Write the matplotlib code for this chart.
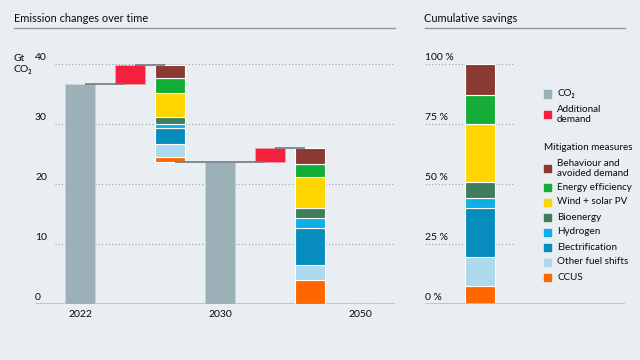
import matplotlib
matplotlib.use('Agg')
import matplotlib.pyplot as plt
from matplotlib.patches import Rectangle

plt.rcParams['font.family'] = ['Lato', 'DejaVu Sans']

# data
year_labels = ['2022', '2030', '2050']
co2 = [36.8, 23.8, 0.3]
additional_demand = [3.1, 2.2]
measures = ['Behaviour and\navoided demand', 'Energy efficiency', 'Wind + solar PV',
            'Bioenergy', 'Hydrogen', 'Electrification', 'Other fuel shifts', 'CCUS']
savings_2030 = [2.25, 2.35, 4.05, 1.15, 0.75, 2.65, 2.1, 0.8]
savings_2050 = [2.6, 2.2, 5.1, 1.7, 1.6, 6.25, 2.55, 4.0]
cumulative = [12.75, 12.2, 24.25, 6.7, 4.1, 20.25, 12.15, 7.6]
left_ticks = [0, 10, 20, 30, 40]
right_ticks = [0, 25, 50, 75, 100]

bg = '#e8eef2'
grey = '#9cb0b8'
red = '#f4203c'
measure_colors = ['#8a3a33', '#14ad38', '#ffd500', '#3f7e5d', '#10aee6',
                  '#078dbd', '#acd9ec', '#ff6600']
text_c = '#0a0a0a'
line_c = '#6e7b82'

fig = plt.figure(figsize=(6.4, 3.6), dpi=100, facecolor=bg)

def px(x, y):
    return x / 640.0, 1 - y / 360.0

# ---- left chart ----
ax = fig.add_axes([35/640, 1 - 304.3/360, 360/640, 252/360])
ax.set_facecolor(bg)
ax.set_xlim(-0.9, 6.3)
ax.set_ylim(0, 42)
ax.axis('off')

# x positions of the 7 waterfall columns (50 px units)
xs = [0, 1.0, 1.8, 2.8, 3.8, 4.6, 5.6]
w = 0.6

for t in left_ticks[1:]:
    ax.hlines(t, -0.5, 6.3, colors='#9aa6ac', linestyles=(0, (1, 2)), lw=0.8, zorder=0)
for t in left_ticks:
    ax.text(-0.9, t + 0.35, str(t), fontsize=7.5, color=text_c, ha='left', va='bottom')
ax.hlines(0, -0.9, 6.3, colors='#b4c3ca', lw=2, zorder=1)

# CO2 bars
for i, v in zip([0, 3, 6], co2):
    ax.bar(xs[i], v, width=w, color=grey, edgecolor='#c9d5da', lw=0.5, zorder=2)

# additional demand
levels = []
for j, (i, d) in enumerate(zip([1, 4], additional_demand)):
    base = co2[j]
    ax.bar(xs[i], d, bottom=base, width=w, color=red, edgecolor='#f7a0ad', lw=0.5, zorder=2)
    levels.append(base + d)

# mitigation stacks
for j, (i, sv) in enumerate(zip([2, 5], [savings_2030, savings_2050])):
    top = levels[j]
    bottom = top - sum(sv)
    b = bottom
    for v, c in zip(sv[::-1], measure_colors[::-1]):
        ax.bar(xs[i], v, bottom=b, width=w, color=c, edgecolor='white', lw=0.8, zorder=2)
        b += v

# connector lines
conn = [(0, 1, co2[0]), (1, 2, levels[0]), (2, 4, co2[1]), (4, 5, levels[1])]
for a, b_, y in conn:
    ax.hlines(y, xs[a] + 0.1, xs[b_] - 0.1, colors=line_c, lw=1.2, zorder=4)

for i, lab in zip([0, 3, 6], year_labels):
    ax.text(xs[i], -1.0, lab, fontsize=7.5, color=text_c, ha='center', va='top')

# ---- right chart ----
ax2 = fig.add_axes([425/640, 1 - 304.3/360, 200/640, 252/360])
ax2.set_facecolor(bg)
ax2.set_xlim(0, 200)
ax2.set_ylim(0, 105)
ax2.axis('off')
for t in right_ticks[1:]:
    ax2.hlines(t, 0, 90, colors='#9aa6ac', linestyles=(0, (1, 2)), lw=0.8, zorder=0)
for t in right_ticks:
    ax2.text(0, t + 0.9, '%d %%' % t, fontsize=7.5, color=text_c, ha='left', va='bottom')
ax2.hlines(0, 0, 200, colors='#b4c3ca', lw=2, zorder=3)
b = 0
for v, c in zip(cumulative[::-1], measure_colors[::-1]):
    ax2.bar(55, v, bottom=b, width=30, color=c, edgecolor='white', lw=0.8, zorder=2)
    b += v

# ---- titles ----
fig.text(*px(14, 19), 'Emission changes over time', fontsize=7.9, color=text_c, va='center')
fig.text(*px(424, 19), 'Cumulative savings', fontsize=7.9, color=text_c, va='center')
fig.add_artist(plt.Line2D([14/640, 395/640], [1 - 28/360] * 2, color='#8f999e', lw=1))
fig.add_artist(plt.Line2D([425/640, 625/640], [1 - 28/360] * 2, color='#8f999e', lw=1))
fig.text(*px(14, 64), 'Gt\nCO₂', fontsize=7.5, color=text_c, va='center', linespacing=1.3)

# ---- legend ----
def legend_item(y, color, label):
    fig.add_artist(Rectangle(px(544, y + 3.5), 7/640, 7/360, color=color,
                             transform=fig.transFigure))
    fig.text(*px(557, y), label, fontsize=7.1, color=text_c, va='center', linespacing=1.2)

legend_item(94, grey, 'CO₂')
legend_item(114.5, red, 'Additional\ndemand')
fig.text(*px(544, 148), 'Mitigation measures', fontsize=7.1, color=text_c, va='center')
ys = [168.5, 187, 202, 217, 232, 247, 262, 277]
for y, c, m in zip(ys, measure_colors, measures):
    legend_item(y, c, m)

fig.savefig('out.png', dpi=100, facecolor=bg)
